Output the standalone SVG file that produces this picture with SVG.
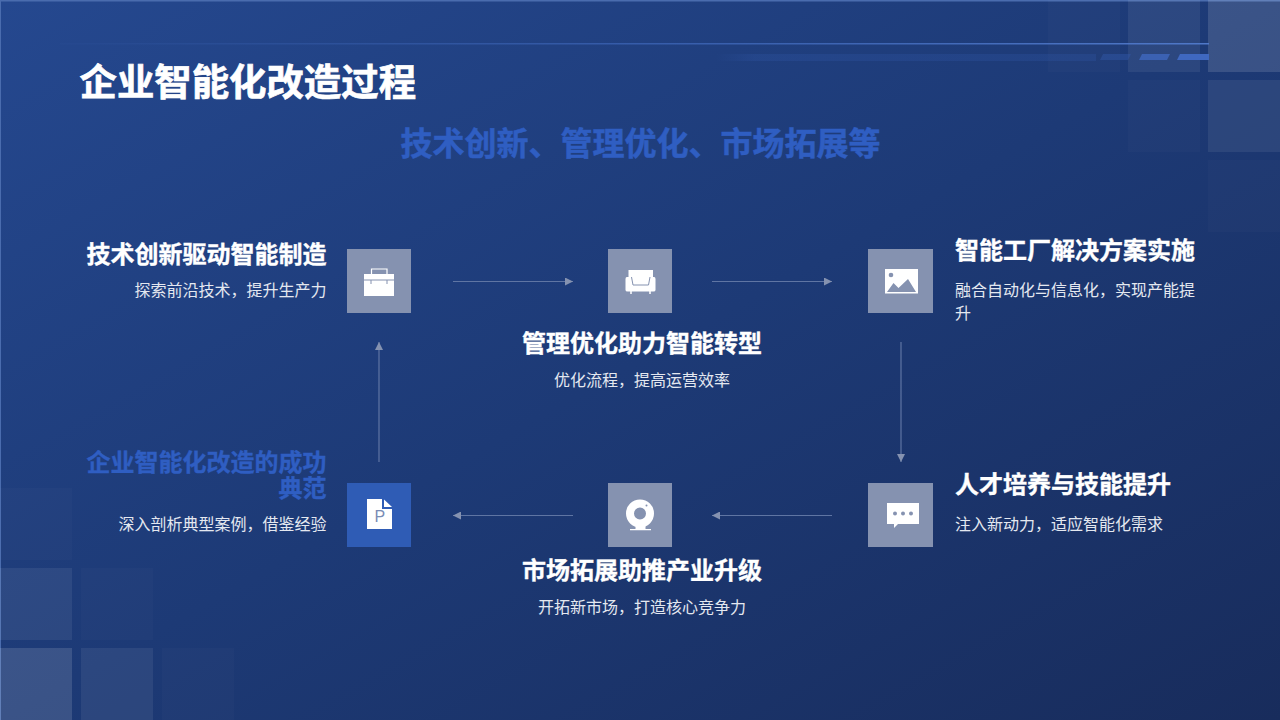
<svg xmlns="http://www.w3.org/2000/svg" width="1280" height="720" viewBox="0 0 1280 720">
<style>
text{font-family:"Noto Sans CJK SC","Liberation Sans",sans-serif}
.t{font-size:24px;font-weight:700;fill:#fff;stroke:#fff;stroke-width:.35}
.b{fill:#2f5ec2;stroke:#2f5ec2;stroke-width:.35;font-size:24px;font-weight:700}
.s{font-size:16px;fill:#e4e8f0}
.n{fill:#8592b0}
.i{fill:#fff}
.d{fill:#8592b0}
.c{fill:none;stroke:#5f75a3;stroke-width:1.200;marker-end:url(#a)}
</style>
<defs>
<linearGradient id="bg" x1="0" y1="0" x2="1" y2="1"><stop offset="0" stop-color="#25488f"/><stop offset=".5" stop-color="#1d3a76"/><stop offset="1" stop-color="#182c5c"/></linearGradient>
<linearGradient id="ln" x1="0" x2="1" y1="0" y2="0"><stop offset="0" stop-color="#3f68bb" stop-opacity=".05"/><stop offset=".5" stop-color="#3f68bb" stop-opacity=".7"/><stop offset="1" stop-color="#4f78c8"/></linearGradient>
<linearGradient id="dn" x1="0" x2="1" y1="0" y2="0"><stop offset="0" stop-color="#2f55a5" stop-opacity="0"/><stop offset=".1" stop-color="#2f55a5" stop-opacity=".3"/><stop offset="1" stop-color="#2f55a5" stop-opacity=".3"/></linearGradient>
<marker id="a" markerWidth="10" markerHeight="8" refX="8" refY="4" orient="auto" markerUnits="userSpaceOnUse"><path d="M0 0L8 4L0 8z" fill="#8592b0"/></marker>
</defs>
<g id="background">
<rect width="1280" height="720" fill="url(#bg)"/>
<rect width="1280" height="1.500" fill="#4a6cae"/>
<rect width="1" height="720" fill="#4a6cae"/>
<g fill="#fff">
<rect x="1208" y="0" width="72" height="72" opacity=".13"/>
<rect x="1128" y="0" width="72" height="72" opacity=".07"/>
<rect x="1048" y="0" width="72" height="72" opacity=".02"/>
<rect x="1208" y="80" width="72" height="72" opacity=".07"/>
<rect x="1128" y="80" width="72" height="72" opacity=".02"/>
<rect x="1208" y="160" width="72" height="72" opacity=".02"/>
<rect x="0" y="648" width="72" height="72" opacity=".13"/>
<rect x="81" y="648" width="72" height="72" opacity=".07"/>
<rect x="162" y="648" width="72" height="72" opacity=".02"/>
<rect x="0" y="568" width="72" height="72" opacity=".07"/>
<rect x="81" y="568" width="72" height="72" opacity=".02"/>
<rect x="0" y="488" width="72" height="72" opacity=".02"/>
</g>
<rect x="60" y="43" width="1149" height="1.500" fill="url(#ln)"/>
<rect x="716" y="54" width="380" height="7" fill="url(#dn)"/>
<path d="M1103 54h28l-3 6h-28z" fill="#2f55a5" opacity=".5"/>
<path d="M1142 54h28l-3 6h-28z" fill="#3e66bb" opacity=".85"/>
<path d="M1180 54h29v6h-32z" fill="#3f68c0"/>
</g>
<text id="title" x="79.500" y="96" font-size="37.400" font-weight="700" fill="#fff" stroke="#fff" stroke-width=".7">企业智能化改造过程</text>
<text id="subtitle" x="640.500" y="155" font-size="32" font-weight="700" text-anchor="middle" fill="#2f5ec2" stroke="#2f5ec2" stroke-width=".5">技术创新、管理优化、市场拓展等</text>
<g id="connectors">
<path class="c" d="M453 281.500H573"/>
<path class="c" d="M712 281.500H832"/>
<path class="c" d="M901 342V462"/>
<path class="c" d="M832 515.500H712"/>
<path class="c" d="M573 515.500H453"/>
<path class="c" d="M379 462V342"/>
</g>
<g id="node1">
<rect class="n" x="347" y="249" width="64" height="64"/>
<path class="i" d="M364 274h30v22h-30z"/>
<path d="M371.500 274v-5h15.500v5" fill="none" stroke="#fff" stroke-width="1.200"/>
<path d="M364 280h30M371 280v4M387 280v4" fill="none" stroke="#8592b0" stroke-width="1"/>
<text class="t" x="326.500" y="263" text-anchor="end">技术创新驱动智能制造</text>
<text class="s" x="326.500" y="296" text-anchor="end">探索前沿技术，提升生产力</text>
</g>
<g id="node2">
<rect class="n" x="608" y="249" width="64" height="64"/>
<path class="i" d="M628.500 270h24.500v7h.5q2-.5 2 2v11q0 1.500-2 1.500h-26q-2 0-2-1.500v-11q0-2.500 2-2h1z"/>
<path d="M631 291v3M650 291v3" stroke="#fff" stroke-width="1.500"/>
<path d="M631.500 277l1.500 8h15.500l1.500-8" fill="none" stroke="#8592b0" stroke-width="1"/>
<text class="t" x="642" y="352" text-anchor="middle">管理优化助力智能转型</text>
<text class="s" x="642" y="386" text-anchor="middle">优化流程，提高运营效率</text>
</g>
<g id="node3">
<rect class="n" x="868" y="249" width="65" height="64"/>
<rect class="i" x="885" y="269" width="33" height="24.500"/>
<circle class="d" cx="891" cy="275" r="2.300"/>
<path class="d" d="M887 292l6.500-9 5 5 9.500-9 8 13z"/>
<text class="t" x="955" y="259">智能工厂解决方案实施</text>
<text class="s" x="955" y="296">融合自动化与信息化，实现产能提</text>
<text class="s" x="955" y="319">升</text>
</g>
<g id="node4">
<rect class="n" x="868" y="483" width="65" height="64"/>
<path class="i" d="M887 503h32v21h-21l-4 4v-4h-7z"/>
<circle class="d" cx="895" cy="513.500" r="2"/><circle class="d" cx="903" cy="513.500" r="2"/><circle class="d" cx="911" cy="513.500" r="2"/>
<text class="t" x="955" y="493">人才培养与技能提升</text>
<text class="s" x="955" y="530">注入新动力，适应智能化需求</text>
</g>
<g id="node5">
<rect class="n" x="608" y="483" width="64" height="64"/>
<circle cx="640" cy="513.500" r="10" fill="none" stroke="#fff" stroke-width="8"/>
<circle class="d" cx="646.500" cy="505.500" r="1"/>
<path class="i" d="M630 529h21v1.200h-21zM635.500 526h10v3h-10z"/>
<text class="t" x="642" y="579" text-anchor="middle">市场拓展助推产业升级</text>
<text class="s" x="642" y="613" text-anchor="middle">开拓新市场，打造核心竞争力</text>
</g>
<g id="node6">
<rect x="347" y="483" width="64" height="64" fill="#2f5cb5"/>
<path class="i" d="M367 499h15v10h10v20h-25z"/>
<path class="i" d="M384 499.500l8 7.500h-8z"/>
<text x="374.500" y="522" font-size="16" style="font-family:'Liberation Sans',sans-serif" fill="#7a8cb5">P</text>
<text class="b" text-anchor="end"><tspan x="326.500" y="471">企业智能化改造的成功</tspan><tspan x="326.500" y="497">典范</tspan></text>
<text class="s" x="326.500" y="530" text-anchor="end">深入剖析典型案例，借鉴经验</text>
</g>
</svg>
